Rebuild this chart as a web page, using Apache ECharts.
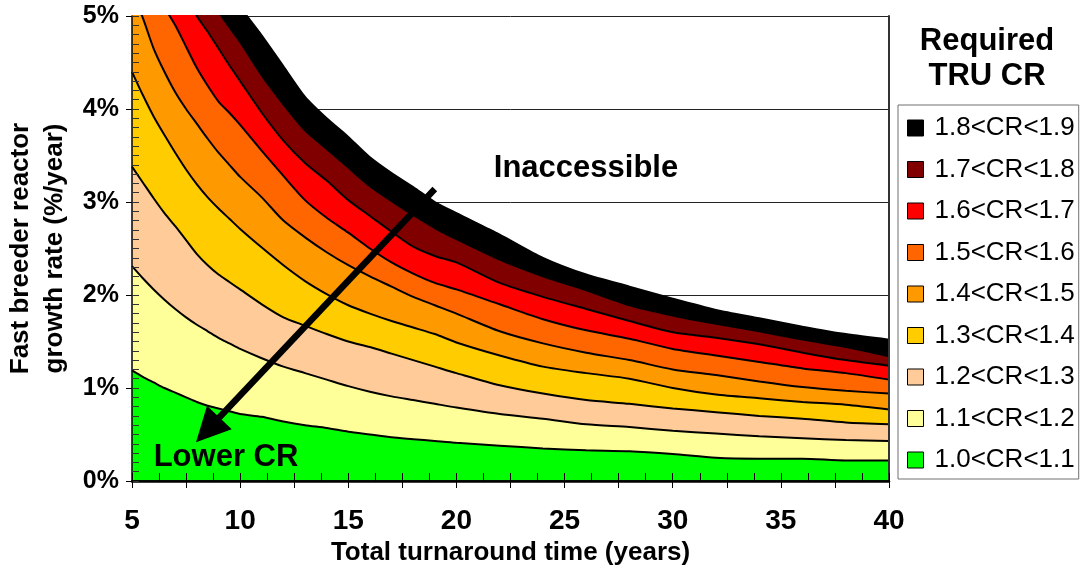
<!DOCTYPE html>
<html>
<head>
<meta charset="utf-8">
<script src="https://cdn.jsdelivr.net/npm/echarts@6/dist/echarts.min.js"></script>
<style>
html,body{margin:0;padding:0;background:#fff;}
#chart{width:1082px;height:573px;}
</style>
</head>
<body>
<div id="chart"></div>
<script>
// Total turnaround time (years)
const years = [5,5.5,6,6.5,7,7.5,8,8.5,9,9.5,10,11,12,13,14,15,16,17,18,19,20,22,24,26,28,30,32,34,36,38,40];
// Upper boundary (%/year) of each CR band (values above 5% are clipped)
const cr11 = [1.19,1.12,1.06,1.00,0.95,0.90,0.85,0.81,0.78,0.75,0.72,0.69,0.64,0.60,0.57,0.53,0.50,0.47,0.45,0.43,0.41,0.38,0.35,0.33,0.32,0.29,0.25,0.24,0.24,0.22,0.22];
const cr12 = [2.31,2.18,2.06,1.95,1.85,1.76,1.68,1.61,1.54,1.48,1.42,1.32,1.23,1.16,1.09,1.02,0.96,0.91,0.87,0.83,0.79,0.72,0.67,0.61,0.58,0.54,0.51,0.48,0.46,0.44,0.43];
const cr13 = [3.38,3.21,3.04,2.88,2.74,2.59,2.44,2.32,2.22,2.14,2.06,1.90,1.76,1.67,1.58,1.50,1.44,1.37,1.30,1.23,1.16,1.03,0.94,0.87,0.83,0.78,0.74,0.70,0.67,0.63,0.61];
const cr14 = [4.40,4.15,3.92,3.72,3.53,3.35,3.19,3.05,2.93,2.82,2.71,2.51,2.32,2.15,2.01,1.89,1.80,1.72,1.65,1.58,1.49,1.35,1.23,1.16,1.10,1.00,0.93,0.89,0.85,0.82,0.77];
const cr15 = [5.25,4.98,4.65,4.40,4.18,4.00,3.84,3.68,3.53,3.40,3.27,3.05,2.80,2.62,2.46,2.32,2.20,2.09,1.98,1.89,1.80,1.61,1.48,1.38,1.30,1.20,1.14,1.07,1.01,0.97,0.94];
const cr16 = [6.2,5.8,5.4,5.1,4.90,4.67,4.44,4.25,4.08,3.96,3.83,3.55,3.28,3.02,2.83,2.67,2.50,2.35,2.23,2.13,2.06,1.90,1.74,1.62,1.53,1.42,1.35,1.28,1.21,1.16,1.09];
const cr17 = [7.4,6.9,6.4,6.0,5.6,5.25,5.0,4.83,4.65,4.47,4.30,3.96,3.66,3.42,3.23,3.02,2.85,2.68,2.52,2.42,2.35,2.13,1.98,1.85,1.72,1.60,1.54,1.47,1.38,1.30,1.24];
const cr18 = [8.6,8.0,7.4,6.9,6.4,6.0,5.6,5.3,5.05,4.88,4.72,4.36,4.05,3.77,3.57,3.37,3.17,3.01,2.86,2.72,2.60,2.38,2.20,2.05,1.89,1.78,1.69,1.61,1.52,1.44,1.34];
const cr19 = [9.8,9.2,8.5,7.9,7.3,6.8,6.3,5.9,5.55,5.3,5.1,4.79,4.46,4.13,3.90,3.70,3.48,3.31,3.16,3.00,2.88,2.65,2.40,2.22,2.09,1.96,1.84,1.75,1.66,1.58,1.52];

const bandNames = ['1.8<CR<1.9','1.7<CR<1.8','1.6<CR<1.7','1.5<CR<1.6','1.4<CR<1.5','1.3<CR<1.4','1.2<CR<1.3','1.1<CR<1.2','1.0<CR<1.1'];
const bandColors = ['#000000','#800000','#FF0000','#FF6600','#FF9900','#FFCC00','#FFCC99','#FFFF99','#00FF00'];
const bandTops = [cr19,cr18,cr17,cr16,cr15,cr14,cr13,cr12,cr11];

// Arrow annotation (data coordinates: years, %/year)
const arrowFrom = [19.0, 3.14];
const arrowTo = [8.5, 0.55];

const yTicks = [0,1,2,3,4,5];
const xMin = 5, xMax = 40, yMin = 0, yMax = 5;

const chart = echarts.init(document.getElementById('chart'), null, {renderer:'canvas'});

const series = bandTops.map((arr, i) => ({
  name: bandNames[i],
  type: 'line',
  xAxisIndex: 0, yAxisIndex: 0,
  data: years.map((x, k) => [x, arr[k]]),
  showSymbol: false,
  symbol: 'none',
  clip: true,
  smooth: 0.25,
  z: 2,
  itemStyle: {color: bandColors[i]},
  lineStyle: {color: '#000', width: 2},
  areaStyle: {color: bandColors[i], opacity: 1, origin: 'start'},
  emphasis: {disabled: true}
}));

series.push({
  type: 'line', name: 'arrow', data: [], xAxisIndex: 0, yAxisIndex: 0,
  markLine: {
    silent: true,
    symbol: ['none', 'triangle'],
    symbolSize: [34, 34],
    label: {show: false},
    lineStyle: {color: '#000', width: 6.5, type: 'solid'},
    itemStyle: {color: '#000'},
    data: [[{coord: arrowFrom}, {coord: arrowTo}]],
    animation: false
  }
});

const baseFont = "'Liberation Sans', Arial, sans-serif";

const option = {
  animation: false,
  backgroundColor: '#fff',
  grid: {left: 132, right: 193, top: 16, bottom: 92, containLabel: false, outerBoundsMode: 'none'},
  legend: {
    data: bandNames,
    orient: 'vertical',
    left: 898, top: 105,
    icon: 'rect',
    itemWidth: 16, itemHeight: 16,
    itemGap: 15.5,
    padding: [10, 4, 6, 9],
    borderColor: '#707070', borderWidth: 1,
    selectedMode: false,
    itemStyle: {borderColor: '#000', borderWidth: 1},
    textStyle: {fontFamily: baseFont, fontSize: 26, color: '#000', lineHeight: 26, padding: [0, 0, 0, 6]}
  },
  xAxis: [
    {type: 'value', min: xMin, max: xMax, interval: 2.5, position: 'bottom', z: 10,
     name: 'Total turnaround time (years)', nameLocation: 'middle', nameGap: 56,
     nameTextStyle: {fontFamily: baseFont, fontWeight: 'bold', fontSize: 26, color: '#000'},
     axisLine: {show: true, lineStyle: {color: '#000', width: 1.5}},
     axisTick: {show: true, inside: false, length: 7, lineStyle: {color: '#000', width: 1}},
     axisLabel: {show: true, margin: 26, fontFamily: baseFont, fontWeight: 'bold', fontSize: 28, color: '#000',
       formatter: v => (v % 5 === 0 ? String(v) : '')},
     splitLine: {show: false}},
    {type: 'value', min: xMin, max: xMax, interval: 1.25, position: 'bottom', z: 10,
     axisLine: {show: false}, axisLabel: {show: false}, splitLine: {show: false},
     axisTick: {show: true, inside: true, length: 8, lineStyle: {color: '#000', width: 1}}},
    {type: 'value', min: xMin, max: xMax, position: 'top', z: 10,
     axisLine: {show: true, lineStyle: {color: '#000', width: 2.5}},
     axisTick: {show: false}, axisLabel: {show: false}, splitLine: {show: false}}
  ],
  yAxis: [
    {type: 'value', min: yMin, max: yMax, interval: 1, position: 'left', z: 0,
     axisLine: {show: false}, axisTick: {show: false}, axisLabel: {show: false},
     splitLine: {show: true, lineStyle: {color: '#222', width: 1}}},
    {type: 'value', min: yMin, max: yMax, interval: 1, position: 'left', z: 10,
     name: 'Fast breeder reactor\ngrowth rate (%/year)', nameLocation: 'middle', nameGap: 60, nameRotate: 90,
     nameTextStyle: {fontFamily: baseFont, fontWeight: 'bold', fontSize: 26, color: '#000', lineHeight: 34},
     axisLine: {show: true, lineStyle: {color: '#000', width: 1.5}},
     axisTick: {show: true, inside: false, length: 6, lineStyle: {color: '#000', width: 1}},
     axisLabel: {show: true, margin: 13, fontFamily: baseFont, fontWeight: 'bold', fontSize: 25, color: '#000',
       formatter: v => (yTicks.indexOf(v) >= 0 ? v + '%' : '')},
     splitLine: {show: false}},
    {type: 'value', min: yMin, max: yMax, interval: 0.1, position: 'left', z: 10,
     axisLine: {show: false}, axisLabel: {show: false}, splitLine: {show: false},
     axisTick: {show: true, inside: true, length: 7, lineStyle: {color: '#333', width: 1}}},
    {type: 'value', min: yMin, max: yMax, position: 'right', z: 10,
     axisLine: {show: true, lineStyle: {color: '#333', width: 2}},
     axisTick: {show: false}, axisLabel: {show: false}, splitLine: {show: false}}
  ],
  graphic: [
    {type: 'text', x: 987, y: 59, z: 100,
     style: {text: 'Required\nTRU CR', fontFamily: baseFont, fontWeight: 'bold', fontSize: 31, lineHeight: 35,
             fill: '#000', textAlign: 'center', textVerticalAlign: 'middle'}},
    {type: 'text', x: 586, y: 168, z: 100,
     style: {text: 'Inaccessible', fontFamily: baseFont, fontWeight: 'bold', fontSize: 31, fill: '#000',
             textAlign: 'center', textVerticalAlign: 'middle'}},
    {type: 'text', x: 226, y: 457, z: 100,
     style: {text: 'Lower CR', fontFamily: baseFont, fontWeight: 'bold', fontSize: 31, fill: '#000',
             textAlign: 'center', textVerticalAlign: 'middle'}}
  ],
  series: series
};

chart.setOption(option);
</script>
</body>
</html>
